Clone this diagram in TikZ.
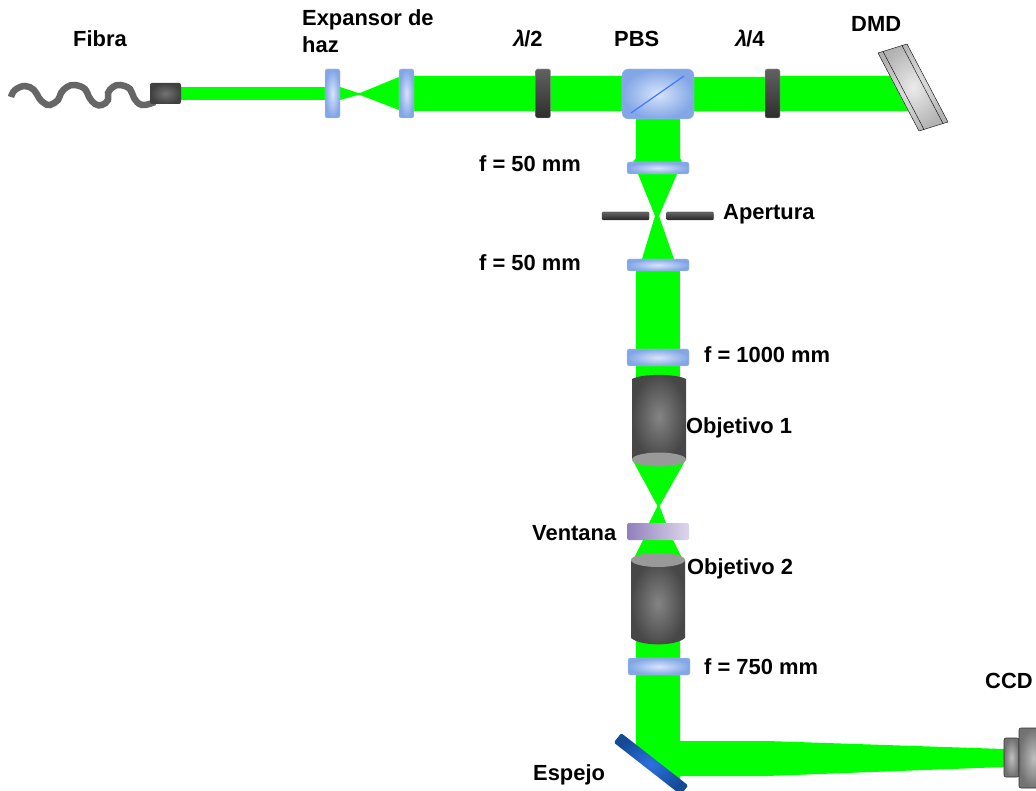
\documentclass[tikz,border=0pt]{standalone}
\usepackage{fontspec}
\setmainfont{Liberation Sans}
\newfontfamily\lamfont[FakeSlant=0.22]{Liberation Sans}
\usetikzlibrary{positioning,calc}
\definecolor{laser}{RGB}{0,255,0}
\definecolor{glass}{RGB}{130,166,230}
\definecolor{glasslt}{RGB}{216,228,250}
\definecolor{espejo}{RGB}{20,74,150}
\definecolor{espejolt}{RGB}{44,114,222}
\definecolor{ventana}{RGB}{144,128,188}
\definecolor{ventanalt}{RGB}{222,214,236}
\tikzset{
  beam/.style = { fill=laser, draw=none },
  lens/.style = { rectangle, rounded corners=2pt, inner sep=0pt, inner color=glasslt, outer color=glass,
    draw=glass!60, very thin },
  plate/.style = { rectangle, rounded corners=2pt, inner sep=0pt, top color=black!62, bottom color=black!82,
    draw=black!30, very thin },
  stopbar/.style = { rectangle, rounded corners=1pt, inner sep=0pt, minimum width=47pt, minimum height=8pt,
    top color=black!60, bottom color=black!85, draw=black!80, very thin },
  objbody/.style = { inner color=black!48, outer color=black!72 },
  objcap/.style = { fill=black!40 },
  camera/.style = { rectangle, rounded corners=2pt, inner sep=0pt, inner color=black!25, outer color=black!55,
    draw=black!80, semithick },
  lbl/.style = { anchor=base west, inner sep=0pt, text=black, yshift=-0.6pt,
    font=\fontsize{21.9}{26}\selectfont\bfseries }
}
\begin{document}
\begin{tikzpicture}[x=1pt,y=-1pt]
    \useasboundingbox (0,0) rectangle (1036,791);

    % green light, first the horizontal arm
    \fill[beam] (181,87) rectangle (325,100);
    \fill[beam] (340,87) -- (358,93) -- (360,93) -- (399,77) -- (399,110) -- (360,95) -- (358,95) -- (340,100) -- cycle;
    \fill[beam] (414,76) rectangle (622,111);
    \fill[beam] (694,77) -- (765,77) -- (780,76) -- (890,76) -- (908,111) -- (780,111) -- (765,111.5) -- (694,111.5) -- cycle;

    % then the vertical arm
    \fill[beam] (636,119) -- (680,119) -- (680,158) -- (682,162) -- (633,162) -- (636,158) -- cycle;
    \fill[beam] (638,174) -- (677,174) -- (659,216) -- (674,259) -- (642,259) -- (655,216) -- cycle;
    \fill[beam] (636,271) rectangle (680,380);
    \fill[beam] (633,461) -- (685,461) -- (659.5,506) -- (666,523) -- (649,523) -- (657.5,506) -- cycle;
    \fill[beam] (643,540) -- (673,540) -- (684,562) -- (632,562) -- cycle;
    \fill[beam] (636,640) -- (680,640) -- (680,741) -- (767,741) -- (1004,749) -- (1004,767) -- (767,776) -- (680,776) -- (680,785) -- (636,750) -- cycle;

    % fibre
    \draw[line width=6.5pt,black!60] plot[smooth,tension=0.7] coordinates {(11,97) (15,90) (25,86) (34,90) (39,98) (44,103) (50,105) (58,100) (61,93) (67,87) (75,85) (85,89) (89,97) (95,104) (102,105) (108,100) (108,93) (113,87) (120,85) (130,89) (134,98) (142,105) (155,102)};
    \node[rectangle,rounded corners=2pt,inner sep=0pt,minimum width=31pt,minimum height=21pt,inner color=black!55,outer color=black!75] (fib) at (165.5,93.5) {};

    \node[lens,minimum width=15pt,minimum height=49pt] (l1) at (332.5,93.5) {};
    \node[lens,minimum width=15pt,minimum height=49pt] (l2) at (406.5,93.5) {};
    \node[plate,minimum width=15pt,minimum height=49pt] (hwp) at (543,93.5) {};
    \node[plate,minimum width=15pt,minimum height=49pt] (qwp) at (772.5,93.5) {};

    \node[lens,rounded corners=6pt,minimum width=72pt,minimum height=50pt] (pbs) at (658,94) {};
    \draw[blue!70!cyan!75!white,line width=1.2pt] (631,113) -- (684,76);

    % micromirror chip, drawn tilted
    \draw[black,thin,inner color=white!92!black,outer color=black!30] (878,53) -- (907,44) -- (948,122) -- (919,131) -- cycle;
    \draw[black,thin] (883,51.5) -- (924,129.5);
    \draw[black,thin] (902,45.5) -- (943,123.5);

    \node[lens,minimum width=62pt,minimum height=12pt] (l3) at (658,168) {};
    \node[stopbar] (ap1) at (625.5,216) {};
    \node[stopbar] (ap2) at (690,216) {};
    \node[lens,minimum width=62pt,minimum height=12pt] (l4) at (658,265) {};
    \node[lens,minimum width=62pt,minimum height=17pt] (l5) at (658,357.5) {};

    % the two objectives
    \path[objbody] (632,379) .. controls (642,373.5) and (676,373.5) .. (686,379) -- (686,460) -- (632,460) -- cycle;
    \path[objcap] (659,459.5) ellipse (27 and 7);
    \node[rectangle,left color=ventana,right color=ventanalt,inner sep=0pt,rounded corners=1.5pt,minimum width=62pt,minimum height=17pt] (win) at (658,531.5) {};
    \path[objbody] (631,560) -- (685,560) -- (685,638) .. controls (675,646.5) and (641,646.5) .. (631,638) -- cycle;
    \path[objcap] (658,560) ellipse (27 and 7);

    \node[lens,minimum width=62pt,minimum height=17pt] (l6) at (659,666.5) {};

    \node[rectangle,rounded corners=1.5pt,inner sep=0pt,minimum width=85pt,minimum height=12pt,rotate=-38,inner color=espejolt,outer color=espejo] (esp) at (651,764) {};

    \node[camera,minimum width=15pt,minimum height=39pt] (ccd1) at (1011.5,757.5) {};
    \node[camera,minimum width=30pt,minimum height=60pt] (ccd2) at (1034,758) {};

    \node[lbl] (t0) at (73,46) {Fibra};
    \node[lbl] (t1) at (302,25) {Expansor de};
    \node[lbl] (t2) at (302,52) {haz};
    \node[lbl] (t3) at (512,46) {{\lamfont λ}/2};
    \node[lbl] (t4) at (614,46) {PBS};
    \node[lbl] (t5) at (734,46) {{\lamfont λ}/4};
    \node[lbl] (t6) at (851,31) {DMD};
    \node[lbl] (t7) at (479,171) {f = 50 mm};
    \node[lbl] (t8) at (479,270) {f = 50 mm};
    \node[lbl] (t9) at (723,219) {Apertura};
    \node[lbl] (t10) at (704,362) {f = 1000 mm};
    \node[lbl] (t11) at (686,433) {Objetivo 1};
    \node[lbl] (t12) at (532,540) {Ventana};
    \node[lbl] (t13) at (687,574) {Objetivo 2};
    \node[lbl] (t14) at (704,674) {f = 750 mm};
    \node[lbl] (t15) at (985,688) {CCD};
    \node[lbl] (t16) at (533,780) {Espejo};
\end{tikzpicture}
\end{document}
